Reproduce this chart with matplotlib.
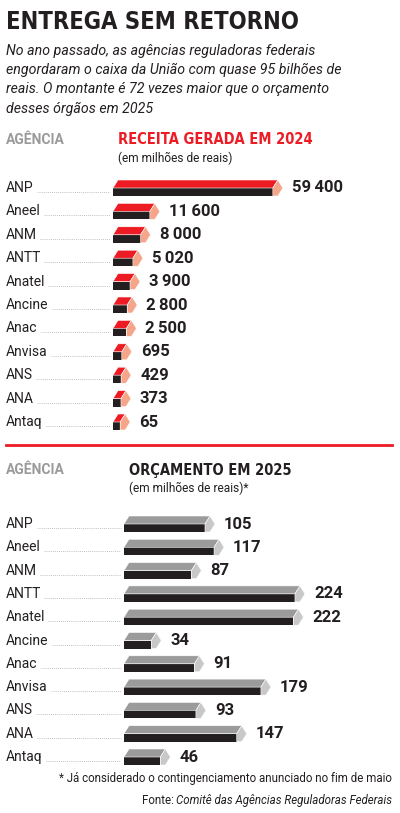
import matplotlib
matplotlib.use("Agg")
import matplotlib.pyplot as plt
from matplotlib.patches import Polygon

agencias = ["ANP","Aneel","ANM","ANTT","Anatel","Ancine","Anac","Anvisa","ANS","ANA","Antaq"]
receita = [59400,11600,8000,5020,3900,2800,2500,695,429,373,65]
receita_lbl = ["59\u2009400","11\u2009600","8\u2009000","5\u2009020","3\u2009900","2\u2009800","2\u2009500","695","429","373","65"]
orcamento = [105,117,87,224,222,34,91,179,93,147,46]

W, H = 400, 813
fig = plt.figure(figsize=(4, 8.13), dpi=100)
ax = fig.add_axes([0, 0, 1, 1])
ax.set_xlim(0, W); ax.set_ylim(H, 0); ax.axis("off")
F = "Roboto"
r = fig.canvas.get_renderer()

def xright(t):
    bb = t.get_window_extent(renderer=r)
    return ax.transData.inverted().transform((bb.x1, bb.y0))[0]

def xleft(t):
    bb = t.get_window_extent(renderer=r)
    return ax.transData.inverted().transform((bb.x0, bb.y0))[0]

ax.text(6, 22, "ENTREGA SEM RETORNO", fontsize=17, fontweight="bold", family="DejaVu Sans",
        fontstretch="condensed", va="center", color="#231f20")
sub = ["No ano passado, as agências reguladoras federais",
       "engordaram o caixa da União com quase 95 bilhões de",
       "reais. O montante é 72 vezes maior que o orçamento",
       "desses órgãos em 2025"]
for i, s in enumerate(sub):
    ax.text(6, 51 + i*19.2, s, fontsize=10.2, style="italic", family=F, va="center", color="#231f20")

def bar(x0, length, yc, top, front, end, d=5, h=8):
    yt, ym, yb = yc - h, yc, yc + h
    x1 = x0 + length
    ax.add_patch(Polygon([(x0, yb), (x0, ym), (x1, ym), (x1, yb)], closed=True, fc=front, ec="none"))
    ax.add_patch(Polygon([(x0, ym), (x0+d, yt), (x1+d, yt), (x1, ym)], closed=True, fc=top, ec="white", lw=0.4))
    ax.add_patch(Polygon([(x1, ym), (x1+d, yt), (x1+2*d, ym), (x1+d, yb), (x1, yb)], closed=True, fc=end, ec="white", lw=0.4))
    return x1 + 2*d

def section(y_head, title, subtitle, y0, dy, vals, lbls, scale, offset, x0, top, endc, tcol):
    ax.text(6, y_head, "AGÊNCIA", fontsize=10, fontweight="bold", family=F, color="#9a9a9a", va="center")
    ax.text(x0 + 5, y_head, title, fontsize=10.5, fontweight="bold", family="DejaVu Sans",
            fontstretch="condensed", color=tcol, va="center")
    ax.text(x0 + 5, y_head + 18, subtitle, fontsize=8.6, family=F, color="#231f20", va="center")
    for i, (a, v, l) in enumerate(zip(agencias, vals, lbls)):
        yc = y0 + i*dy
        t = ax.text(6, yc, a, fontsize=10, family=F, color="#231f20", va="center")
        ax.plot([xright(t) + 3, x0 - 3], [yc + 4, yc + 4], ls=(0, (1, 1.5)), color="#aaaaaa", lw=0.6)
        xe = bar(x0, offset + scale*v, yc, top, "#231f20", endc)
        ax.text(xe + 9, yc, l, fontsize=12, fontweight="bold", family=F, color="#231f20", va="center")

section(140, "RECEITA GERADA EM 2024", "(em milhões de reais)", 188, 23.4,
        receita, receita_lbl, 123/47800, 7, 113, "#ed1c24", "#f4a58a", "#ed1c24")
ax.plot([6, 392], [445, 445], color="#ed1c24", lw=2)
section(470, "ORÇAMENTO EM 2025", "(em milhões de reais)*", 524, 23.3,
        orcamento, [str(v) for v in orcamento], 0.756, 1.6, 124, "#9b9b9b", "#c8c8c8", "#231f20")

ax.text(392, 778, "* Já considerado o contingenciamento anunciado no fim de maio", fontsize=8.3,
        family=F, ha="right", va="center", color="#231f20")
t = ax.text(392, 800, "Comitê das Agências Reguladoras Federais", fontsize=8.3, style="italic",
            family=F, ha="right", va="center", color="#231f20")
ax.text(xleft(t) - 2, 800, "Fonte:", fontsize=8.3, family=F, ha="right", va="center", color="#231f20")
fig.savefig("out.png", dpi=100)
